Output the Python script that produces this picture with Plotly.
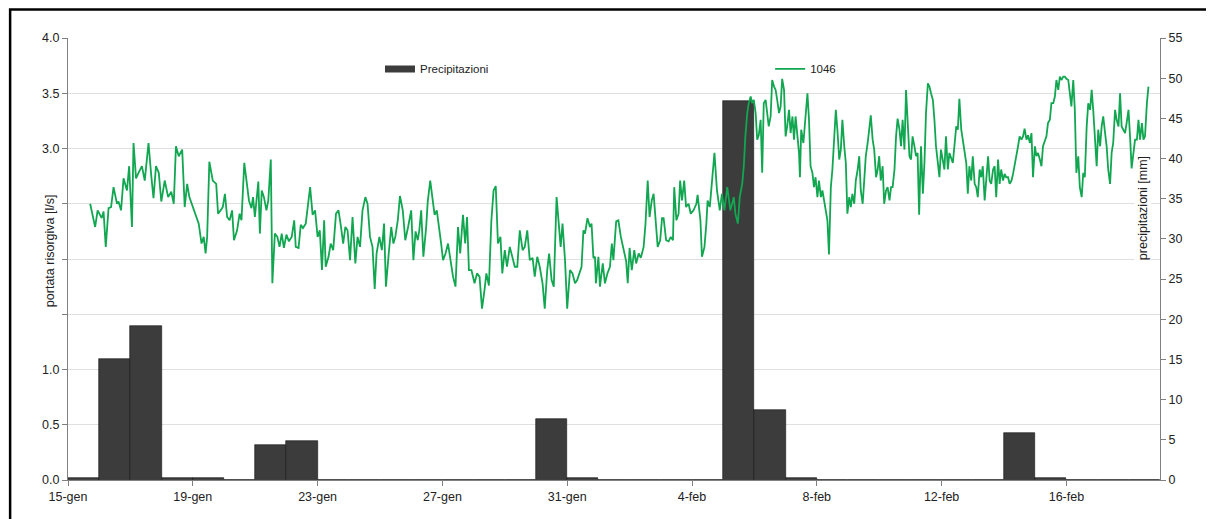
import pandas as pd
import plotly.graph_objects as go

# ---------------- data ----------------
start_date = "2013-01-15"
n_days = 35

# daily precipitation [mm], one value per day from 15-gen to 18-feb
precip_mm = [0.2, 15.0, 19.2, 0.2, 0.2, 0.0, 4.3, 4.8, 0.0, 0.0,
             0.0, 0.0, 0.0, 0.0, 0.0, 7.6, 0.2, 0.0, 0.0, 0.0,
             0.0, 47.2, 8.7, 0.2, 0.0, 0.0, 0.0, 0.0, 0.0, 0.0,
             5.8, 0.2, 0.0, 0.0, 0.0]

# spring discharge "1046" [l/s]: (days since 15-gen, value)
q_1046 = [
    (0.71, 2.50), (0.87, 2.29), (0.95, 2.44), (1.08, 2.37), (1.14, 2.43), (1.21, 2.11), (1.30, 2.46),
    (1.38, 2.47), (1.46, 2.65), (1.57, 2.50), (1.62, 2.52), (1.70, 2.44), (1.78, 2.73), (1.89, 2.62),
    (1.96, 2.84), (2.05, 2.29), (2.10, 3.05), (2.18, 2.73), (2.26, 2.78), (2.37, 2.84), (2.46, 2.71),
    (2.58, 3.05), (2.67, 2.75), (2.74, 2.55), (2.82, 2.84), (2.91, 2.78), (2.99, 2.52), (3.10, 2.71),
    (3.21, 2.56), (3.31, 2.61), (3.39, 2.50), (3.46, 3.02), (3.55, 2.93), (3.66, 2.99), (3.74, 2.47),
    (3.82, 2.68), (3.89, 2.56), (3.98, 2.49), (4.08, 2.41), (4.19, 2.32), (4.28, 2.14), (4.35, 2.20),
    (4.41, 2.05), (4.46, 2.20), (4.53, 2.88), (4.64, 2.71), (4.75, 2.68), (4.81, 2.41), (4.89, 2.44),
    (4.96, 2.47), (5.03, 2.59), (5.10, 2.38), (5.18, 2.35), (5.26, 2.44), (5.32, 2.17), (5.42, 2.26),
    (5.50, 2.41), (5.56, 2.35), (5.65, 2.87),
    (5.80, 2.53), (5.88, 2.46), (5.93, 2.56), (5.99, 2.38), (6.03, 2.50), (6.10, 2.70), (6.15, 2.23),
    (6.21, 2.62), (6.28, 2.56), (6.36, 2.44), (6.42, 2.53), (6.50, 2.90), (6.55, 1.78), (6.63, 2.23),
    (6.71, 2.20), (6.78, 2.11), (6.85, 2.23), (6.92, 2.10), (7.00, 2.22), (7.08, 2.16), (7.17, 2.20),
    (7.25, 2.35), (7.30, 2.11), (7.39, 2.10), (7.46, 2.31), (7.53, 2.28), (7.62, 2.32), (7.70, 2.53),
    (7.76, 2.65), (7.84, 2.40), (7.92, 2.44), (8.00, 2.20), (8.07, 2.26), (8.14, 1.90), (8.21, 2.35),
    (8.26, 1.93), (8.35, 2.02), (8.42, 2.14), (8.50, 2.08), (8.59, 2.41), (8.67, 2.44), (8.75, 2.29),
    (8.82, 2.14), (8.89, 2.29), (8.96, 2.26), (9.04, 1.99), (9.12, 2.38), (9.21, 1.96), (9.28, 2.20),
    (9.36, 2.11), (9.44, 2.44), (9.53, 2.56), (9.60, 2.50), (9.68, 2.20), (9.76, 2.11), (9.83, 1.73),
    (9.89, 2.05), (9.98, 2.20), (10.06, 2.08), (10.13, 2.32), (10.19, 1.75), (10.28, 2.05), (10.36, 2.29),
    (10.43, 2.14), (10.49, 2.20), (10.57, 2.35), (10.64, 2.57), (10.73, 2.44), (10.81, 2.17), (10.90, 2.29),
    (11.00, 2.44),
    (11.07, 1.99), (11.14, 2.25), (11.21, 2.17), (11.26, 2.26), (11.32, 2.44), (11.39, 2.02), (11.48, 2.29),
    (11.53, 2.52), (11.61, 2.71), (11.67, 2.56), (11.75, 2.40), (11.82, 2.44), (11.89, 2.26), (11.96, 2.14),
    (12.02, 1.99), (12.10, 2.05), (12.18, 2.14), (12.25, 1.99), (12.34, 1.84), (12.42, 1.75), (12.50, 2.29),
    (12.57, 2.05), (12.66, 2.40), (12.73, 2.14), (12.79, 2.38), (12.85, 1.90), (12.93, 1.90), (13.03, 1.78),
    (13.11, 1.87), (13.19, 1.84), (13.27, 1.55), (13.35, 1.72), (13.41, 1.87), (13.49, 1.76), (13.57, 2.35),
    (13.64, 2.62), (13.71, 2.66), (13.78, 2.14), (13.86, 2.20), (13.92, 1.87), (14.00, 2.08), (14.07, 1.93),
    (14.16, 2.11), (14.24, 2.02), (14.32, 1.93), (14.40, 1.93), (14.48, 2.26), (14.57, 2.08), (14.64, 2.11),
    (14.72, 2.26), (14.80, 1.99), (14.89, 2.01), (14.96, 1.84), (15.04, 2.02), (15.12, 1.93), (15.21, 1.78),
    (15.28, 1.55), (15.36, 1.90), (15.42, 2.05), (15.50, 1.81), (15.57, 1.75), (15.66, 2.56), (15.72, 2.32),
    (15.79, 2.11), (15.85, 2.32), (15.93, 1.99), (16.00, 1.55), (16.09, 1.90),
    (16.17, 1.87), (16.25, 1.78), (16.32, 1.81), (16.39, 1.87), (16.46, 1.93), (16.52, 2.26), (16.57, 2.23),
    (16.65, 2.37), (16.73, 2.29), (16.78, 2.32), (16.84, 2.01), (16.89, 2.02), (16.92, 1.78), (17.00, 2.02),
    (17.05, 1.75), (17.14, 1.96), (17.21, 1.78), (17.29, 1.87), (17.37, 1.93), (17.43, 2.14), (17.48, 1.99),
    (17.57, 2.34), (17.64, 2.35), (17.72, 2.20), (17.80, 2.08), (17.89, 1.98), (17.94, 1.78), (18.00, 2.10),
    (18.07, 1.90), (18.15, 2.08), (18.21, 1.96), (18.29, 2.05), (18.36, 2.01), (18.45, 2.11), (18.51, 2.32),
    (18.58, 2.71), (18.64, 2.38), (18.71, 2.53), (18.77, 2.59), (18.82, 2.41), (18.90, 2.11), (18.98, 2.17),
    (19.04, 2.37), (19.09, 2.37), (19.17, 2.17), (19.25, 2.16), (19.32, 2.20), (19.39, 2.17), (19.43, 2.65),
    (19.50, 2.35), (19.57, 2.41), (19.62, 2.71), (19.68, 2.53), (19.75, 2.71), (19.81, 2.47), (19.89, 2.50),
    (19.96, 2.41), (20.05, 2.44), (20.14, 2.50), (20.18, 2.58), (20.27, 2.35), (20.32, 2.02), (20.40, 2.11),
    (20.46, 2.32), (20.50, 2.53), (20.57, 2.47), (20.64, 2.68), (20.72, 2.96), (20.80, 2.62), (20.89, 2.44),
    (20.96, 2.59), (21.04, 2.44),
    (21.13, 2.65), (21.23, 2.44), (21.34, 2.56), (21.39, 2.41), (21.47, 2.32), (21.53, 2.56), (21.61, 2.68),
    (21.66, 2.84), (21.71, 3.11), (21.77, 3.32), (21.82, 3.41), (21.88, 3.47), (21.93, 3.41), (21.98, 3.44),
    (22.04, 3.32), (22.09, 3.08), (22.14, 3.12), (22.20, 3.26), (22.25, 2.78), (22.30, 3.41), (22.36, 3.44),
    (22.41, 3.32), (22.46, 3.20), (22.52, 3.29), (22.57, 3.62), (22.63, 3.56), (22.68, 3.53), (22.73, 3.44),
    (22.79, 3.32), (22.84, 3.38), (22.89, 3.63), (22.95, 3.53), (23.00, 3.11), (23.05, 3.20), (23.11, 3.35),
    (23.16, 3.14), (23.22, 3.29), (23.27, 3.08), (23.32, 3.29), (23.38, 3.11), (23.43, 2.96), (23.46, 2.74),
    (23.50, 3.17), (23.57, 3.05), (23.64, 3.26), (23.70, 3.50), (23.75, 3.26), (23.80, 2.84), (23.86, 2.78),
    (23.91, 2.65), (23.96, 2.74), (24.02, 2.56), (24.07, 2.71), (24.13, 2.56), (24.18, 2.62), (24.23, 2.53),
    (24.29, 2.44), (24.34, 2.35), (24.39, 2.04), (24.45, 2.65), (24.50, 2.81), (24.56, 3.11), (24.61, 3.35),
    (24.66, 3.17), (24.72, 2.90), (24.77, 2.99), (24.82, 3.26), (24.88, 3.02), (24.93, 2.87), (24.98, 2.41),
    (25.04, 2.56), (25.09, 2.47), (25.14, 2.59), (25.20, 2.50), (25.25, 2.71), (25.31, 2.81), (25.36, 2.93),
    (25.41, 2.62), (25.47, 2.50), (25.52, 2.71), (25.57, 2.93), (25.63, 3.05), (25.68, 3.17), (25.73, 3.30),
    (25.79, 3.08), (25.84, 2.99), (25.90, 2.74), (25.95, 2.81), (26.00, 2.93), (26.05, 2.71), (26.11, 2.84),
    (26.16, 2.50), (26.22, 2.62), (26.27, 2.65), (26.33, 2.53), (26.38, 2.65),
    (26.43, 2.65), (26.49, 2.81), (26.54, 3.11), (26.59, 3.27), (26.65, 3.17), (26.70, 3.02), (26.75, 3.26),
    (26.81, 2.99), (26.86, 3.53), (26.91, 3.26), (26.97, 2.93), (27.02, 2.90), (27.07, 3.11), (27.13, 3.02),
    (27.18, 2.93), (27.23, 2.96), (27.28, 2.40), (27.34, 3.02), (27.40, 2.59), (27.45, 2.87), (27.50, 3.32),
    (27.56, 3.59), (27.61, 3.56), (27.66, 3.50), (27.72, 3.44), (27.77, 3.26), (27.82, 3.02), (27.88, 2.87),
    (27.93, 2.74), (27.98, 2.99), (28.04, 2.90), (28.09, 2.81), (28.14, 3.11), (28.20, 2.81), (28.25, 2.96),
    (28.31, 2.90), (28.36, 2.87), (28.41, 3.02), (28.47, 3.20), (28.52, 3.17), (28.57, 3.45), (28.63, 3.17),
    (28.68, 3.08), (28.73, 2.99), (28.79, 2.87), (28.84, 2.59), (28.89, 2.84), (28.95, 2.71), (29.00, 2.93),
    (29.06, 2.68), (29.11, 2.65), (29.16, 2.56), (29.22, 2.81), (29.27, 2.74), (29.32, 2.84), (29.38, 2.53),
    (29.43, 2.74), (29.49, 2.93), (29.54, 2.71), (29.59, 2.68), (29.65, 2.81), (29.70, 2.84), (29.75, 2.56),
    (29.81, 2.90), (29.86, 2.68), (29.91, 2.81), (29.97, 2.71), (30.02, 2.77), (30.07, 2.74), (30.13, 2.74),
    (30.18, 2.68), (30.24, 2.71), (30.29, 2.77), (30.34, 2.84), (30.40, 2.93), (30.45, 3.02), (30.50, 3.11),
    (30.56, 3.08), (30.61, 3.11), (30.66, 3.18), (30.72, 3.08), (30.77, 3.12), (30.83, 3.05), (30.88, 3.14),
    (30.93, 2.74), (30.99, 3.02), (31.04, 2.93), (31.09, 2.96), (31.15, 2.90), (31.20, 2.84), (31.25, 3.02),
    (31.31, 3.08), (31.36, 3.11), (31.41, 3.23), (31.47, 3.26), (31.52, 3.41),
    (31.58, 3.41), (31.63, 3.47), (31.68, 3.62), (31.74, 3.53), (31.79, 3.65), (31.84, 3.62), (31.90, 3.65),
    (31.95, 3.65), (32.00, 3.63), (32.06, 3.62), (32.11, 3.50), (32.16, 3.38), (32.22, 3.62), (32.27, 3.35),
    (32.32, 2.78), (32.38, 2.93), (32.43, 2.65), (32.49, 2.56), (32.54, 2.78), (32.59, 2.74), (32.65, 3.20),
    (32.70, 3.41), (32.76, 3.35), (32.81, 3.53), (32.86, 3.35), (32.92, 3.05), (32.97, 2.84), (33.02, 3.17),
    (33.08, 3.02), (33.13, 3.20), (33.18, 3.29), (33.24, 3.14), (33.29, 3.02), (33.34, 2.81), (33.40, 2.68),
    (33.45, 2.96), (33.50, 3.05), (33.56, 3.35), (33.61, 3.26), (33.67, 3.20), (33.72, 3.50), (33.77, 3.20),
    (33.83, 3.17), (33.88, 3.14), (33.93, 3.23), (33.99, 3.35), (34.04, 3.11), (34.09, 2.82), (34.15, 2.96),
    (34.20, 3.08), (34.26, 3.08), (34.31, 3.26), (34.36, 3.08), (34.42, 3.23), (34.47, 3.08), (34.52, 3.11),
    (34.58, 3.41), (34.63, 3.56),
]

x_tick_days = [0, 4, 8, 12, 16, 20, 24, 28, 32]
x_tick_labels = ["15-gen", "19-gen", "23-gen", "27-gen", "31-gen",
                 "4-feb", "8-feb", "12-feb", "16-feb"]

q_tick_vals = [0.0, 0.5, 1.0, 1.5, 2.0, 2.5, 3.0, 3.5, 4.0]
q_tick_labels = ["0.0", "0.5", "1.0", "", "", "", "3.0", "3.5", "4.0"]

# ---------------- build ----------------
base = pd.Timestamp(start_date)
day = pd.Timedelta(days=1)

bar_x = [base + (i + 0.5) * day for i in range(len(precip_mm))]
line_x = [base + pd.to_timedelta(t, unit="D") for t, _ in q_1046]
line_y = [v for _, v in q_1046]
tick_vals = [base + d * day for d in x_tick_days]

FONT = "Liberation Sans, Arial, sans-serif"
AXC = "#808080"
GREEN = "#11a650"
BARC = "#3c3c3c"

fig = go.Figure()

fig.add_trace(go.Bar(
    x=bar_x, y=precip_mm, width=86400000,
    marker=dict(color=BARC, line=dict(color="#111111", width=0.6)),
    yaxis="y", showlegend=False, name="Precipitazioni",
))
# legend key for the bars (wide flat rectangle as in the original)
fig.add_trace(go.Scatter(
    x=[None], y=[None], mode="lines", name="Precipitazioni",
    line=dict(color=BARC, width=7), yaxis="y", legend="legend",
))
fig.add_trace(go.Scatter(
    x=line_x, y=line_y, mode="lines", name="1046",
    line=dict(color=GREEN, width=1.8), yaxis="y2", legend="legend2",
))

tickfont = dict(family=FONT, size=12.5, color="#222222")

# the page body has an 8px margin: plot area is placed at 68..1160 x 38..480 on screen
fig.update_layout(
    width=1214, height=519,
    margin=dict(l=60, r=62, t=30, b=47),
    paper_bgcolor="white", plot_bgcolor="white",
    font=dict(family=FONT, size=12, color="#222222"),
    bargap=0,
    xaxis=dict(
        type="date", range=[base, base + n_days * day],
        tickvals=tick_vals, ticktext=x_tick_labels,
        ticks="outside", ticklen=5, tickcolor=AXC,
        showline=True, linecolor=AXC, linewidth=1,
        showgrid=False, zeroline=False, tickfont=tickfont,
    ),
    yaxis=dict(
        range=[0, 55], side="right", tick0=0, dtick=5,
        ticks="outside", ticklen=5, tickcolor=AXC,
        showline=True, linecolor=AXC, linewidth=1,
        showgrid=False, zeroline=False, tickfont=tickfont,
    ),
    yaxis2=dict(
        overlaying="y", side="left", range=[0, 4],
        tickvals=q_tick_vals, ticktext=q_tick_labels,
        ticks="outside", ticklen=5, tickcolor=AXC,
        showline=True, linecolor=AXC, linewidth=1,
        showgrid=True, gridcolor="#e0e0e0", gridwidth=1,
        zeroline=False, tickfont=tickfont,
    ),
    legend=dict(
        x=0.2857, y=0.93, xanchor="left", yanchor="middle",
        bgcolor="rgba(0,0,0,0)", itemwidth=30,
        font=dict(family=FONT, size=11.5, color="#222222"),
    ),
    legend2=dict(
        x=0.643, y=0.93, xanchor="left", yanchor="middle",
        bgcolor="rgba(0,0,0,0)", itemwidth=30,
        font=dict(family=FONT, size=11.5, color="#222222"),
    ),
    annotations=[
        dict(text="portata risorgiva [l/s]", textangle=-90,
             xref="paper", yref="paper", x=-0.0165, y=0.52,
             xanchor="center", yanchor="middle", showarrow=False,
             font=dict(family=FONT, size=12.5, color="#222222"),
             bgcolor="white"),
        dict(text="precipitazioni [mm]", textangle=-90,
             xref="paper", yref="paper", x=0.9844, y=0.615,
             xanchor="center", yanchor="middle", showarrow=False,
             font=dict(family=FONT, size=12.5, color="#222222"),
             bgcolor="white"),
    ],
    shapes=[
        # outer frame of the original picture (top and left edges visible)
        dict(type="rect", xref="paper", yref="paper",
             x0=-0.0530, x1=1.07, y0=-0.15, y1=1.0645,
             line=dict(color="black", width=2.5), fillcolor="rgba(0,0,0,0)",
             layer="above"),
    ],
)

fig.write_html("out.html")
